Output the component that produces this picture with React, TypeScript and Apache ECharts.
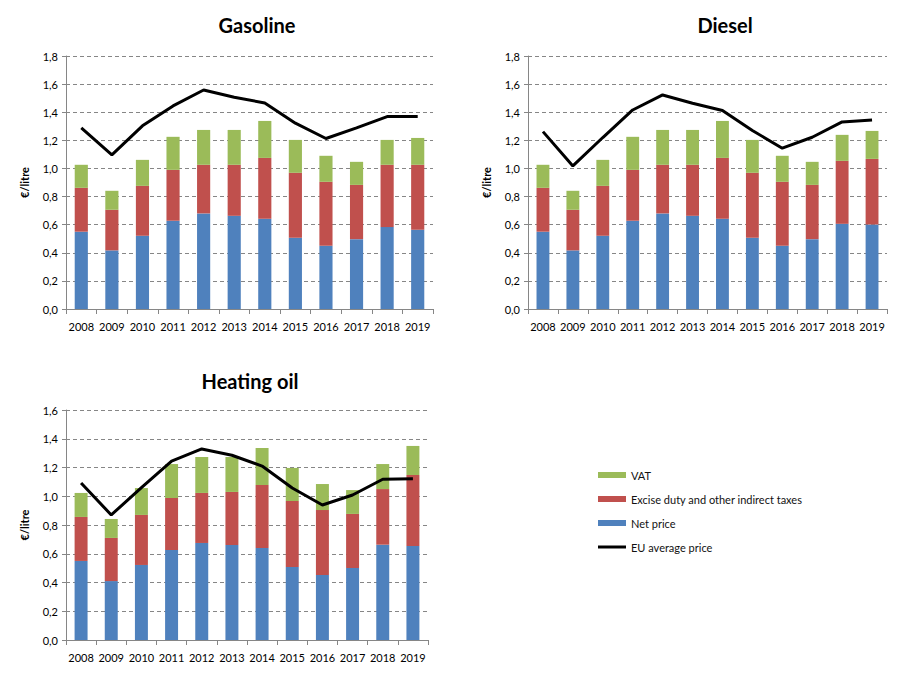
import React, { useEffect, useRef } from "react";
import * as echarts from "echarts";

const years = ["2008", "2009", "2010", "2011", "2012", "2013", "2014", "2015", "2016", "2017", "2018", "2019"];

// Gasoline
const gasNet = [0.55, 0.417, 0.521, 0.628, 0.68, 0.663, 0.642, 0.507, 0.45, 0.497, 0.583, 0.564];
const gasExcise = [0.312, 0.289, 0.355, 0.362, 0.346, 0.363, 0.433, 0.462, 0.455, 0.386, 0.443, 0.462];
const gasVat = [0.164, 0.135, 0.185, 0.235, 0.248, 0.248, 0.263, 0.234, 0.185, 0.164, 0.177, 0.191];
const gasAvg = [1.289, 1.097, 1.303, 1.445, 1.558, 1.506, 1.466, 1.322, 1.213, 1.289, 1.369, 1.369];

// Diesel
const dieNet = [0.55, 0.417, 0.521, 0.628, 0.68, 0.663, 0.642, 0.507, 0.45, 0.497, 0.606, 0.602];
const dieExcise = [0.312, 0.289, 0.355, 0.362, 0.346, 0.363, 0.433, 0.462, 0.455, 0.386, 0.448, 0.466];
const dieVat = [0.164, 0.135, 0.185, 0.235, 0.248, 0.248, 0.263, 0.234, 0.185, 0.164, 0.185, 0.199];
const dieAvg = [1.262, 1.018, 1.22, 1.416, 1.523, 1.464, 1.412, 1.27, 1.144, 1.222, 1.331, 1.345];

// Heating oil
const heatNet = [0.55, 0.41, 0.522, 0.626, 0.675, 0.661, 0.64, 0.508, 0.452, 0.501, 0.663, 0.654];
const heatExcise = [0.306, 0.3, 0.348, 0.362, 0.348, 0.369, 0.438, 0.459, 0.452, 0.376, 0.387, 0.494];
const heatVat = [0.167, 0.132, 0.187, 0.236, 0.25, 0.243, 0.258, 0.23, 0.181, 0.166, 0.174, 0.202];
const heatAvg = [1.092, 0.87, 1.06, 1.245, 1.329, 1.285, 1.21, 1.057, 0.939, 1.009, 1.118, 1.122];

const titles = ["Gasoline", "Diesel", "Heating oil"];
const yMax = [1.8, 1.8, 1.6];

const BLUE = "#4F81BD";
const RED = "#C0504D";
const GREEN = "#9BBB59";
const FONT = "Lato, 'Open Sans', sans-serif";

export default function App() {
  const ref = useRef<HTMLDivElement>(null);
  useEffect(() => {
    document.body.style.margin = "0";
    const chart = echarts.init(ref.current!, undefined, { renderer: "svg" });
    const grids = [
      { left: 66, top: 56, width: 367, height: 253 },
      { left: 528, top: 56, width: 359, height: 253 },
      { left: 66, top: 410, width: 362, height: 230 },
    ];
    const panels = [
      [gasNet, gasExcise, gasVat, gasAvg],
      [dieNet, dieExcise, dieVat, dieAvg],
      [heatNet, heatExcise, heatVat, heatAvg],
    ];
    const titleCenters = [
      { x: 252, y: 10 },
      { x: 720, y: 10 },
      { x: 245, y: 366 },
    ];
    const series: any[] = [];
    panels.forEach((p, i) => {
      const stack = "s" + i;
      series.push({
        name: "Net price", type: "bar", stack, xAxisIndex: i, yAxisIndex: i,
        data: p[0], barWidth: "43%", itemStyle: { color: BLUE },
      });
      series.push({
        name: "Excise duty and other indirect taxes", type: "bar", stack, xAxisIndex: i, yAxisIndex: i,
        data: p[1], barWidth: "43%", itemStyle: { color: RED },
      });
      series.push({
        name: "VAT", type: "bar", stack, xAxisIndex: i, yAxisIndex: i,
        data: p[2], barWidth: "43%", itemStyle: { color: GREEN },
      });
      series.push({
        name: "EU average price", type: "line", xAxisIndex: i, yAxisIndex: i,
        data: p[3], symbol: "none", lineStyle: { color: "#000", width: 3 }, itemStyle: { color: "#000" },
        z: 5,
      });
    });
    chart.setOption({
      animation: false,
      textStyle: { fontFamily: FONT },
      title: titles.map((t, i) => ({
        text: t,
        left: titleCenters[i].x,
        top: titleCenters[i].y,
        textAlign: "center",
        textStyle: { fontFamily: FONT, fontSize: 20, fontWeight: "bold", color: "#000" },
      })),
      legend: {
        orient: "vertical",
        left: 593,
        top: 463,
        itemWidth: 28,
        itemHeight: 6,
        itemGap: 10,
        textStyle: { fontFamily: FONT, fontSize: 11, color: "#111", lineHeight: 14 },
        data: [
          { name: "VAT", icon: "rect" },
          { name: "Excise duty and other indirect taxes", icon: "rect" },
          { name: "Net price", icon: "rect" },
          { name: "EU average price", icon: "path://M0,0 H28 V3 H0 Z" },
        ],
      },
      grid: grids,
      xAxis: grids.map((_, i) => ({
        type: "category",
        gridIndex: i,
        data: years,
        axisLine: { lineStyle: { color: "#868686" } },
        axisTick: { show: true, length: 5, lineStyle: { color: "#868686" } },
        axisLabel: { color: "#000", fontSize: 11, margin: 12, interval: 0, fontFamily: FONT },
      })),
      yAxis: grids.map((_, i) => ({
        type: "value",
        gridIndex: i,
        min: 0,
        max: yMax[i],
        interval: 0.2,
        name: "€/litre",
        nameLocation: "middle",
        nameGap: 36,
        nameTextStyle: { fontWeight: "bold", fontSize: 11, color: "#000", fontFamily: FONT },
        axisLine: { show: true, lineStyle: { color: "#868686" } },
        axisTick: { show: true, length: 4, lineStyle: { color: "#868686" } },
        axisLabel: {
          color: "#000", fontSize: 11, margin: 8, fontFamily: FONT,
          formatter: (v: number) => v.toFixed(1).replace(".", ","),
        },
        splitLine: { lineStyle: { color: "#868686", type: [4, 3], width: 1 } },
      })),
      series,
    });
    return () => chart.dispose();
  }, []);
  return <div ref={ref} style={{ width: 906, height: 696 }} />;
}
